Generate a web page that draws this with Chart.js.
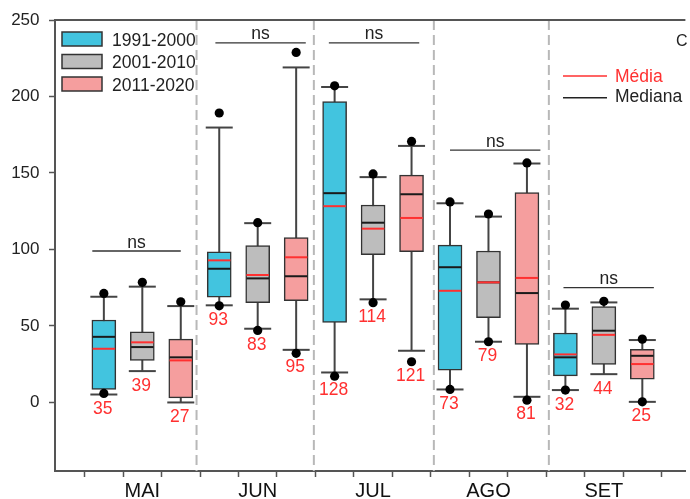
<!DOCTYPE html>
<html><head><meta charset="utf-8">
<script src="https://cdn.jsdelivr.net/npm/chart.js@4.4.1/dist/chart.umd.min.js"></script>
<style>html,body{margin:0;padding:0;background:#fff;overflow:hidden}canvas{display:block}</style>
</head><body>
<canvas id="c" width="690" height="499"></canvas>
<script>
// ---------- DATA ----------
const months = ['MAI', 'JUN', 'JUL', 'AGO', 'SET'];
const seriesNames = ['1991-2000', '2001-2010', '2011-2020'];
const yTicks = [0, 50, 100, 150, 200, 250];
const dividers = [3.41, 6.46, 9.58, 12.57];

// 1991-2000
const wHighA = [69.1, 179.7, 206.2, 130.2, 61.3];
const q3A    = [53.9, 98.4, 196.7, 102.8, 45.4];
const medA   = [42.9, 87.4, 136.8, 88.4, 29.5];
const meanA  = [35.1, 92.9, 128.3, 73.0, 31.4];
const q1A    = [8.5, 68.9, 52.4, 21.1, 17.4];
const wLowA  = [5.2, 63.5, 19.6, 8.5, 8.1];
const dotHiA = [71.3, 189.2, 207.0, 131.1, 63.7];
const dotLoA = [5.9, 63.2, 17.2, 8.5, 8.1];
const labA   = [35, 93, 128, 73, 32];

// 2001-2010
const wHighB = [75.7, 117.2, 147.3, 121.5, 65.4];
const q3B    = [46.2, 102.5, 129.1, 99.0, 62.6];
const medB   = [36.2, 81.1, 117.5, 78.5, 46.9];
const meanB  = [39.3, 83.3, 113.6, 78.5, 44.2];
const q1B    = [27.5, 65.2, 96.6, 55.4, 24.9];
const wLowB  = [20.5, 48.2, 67.4, 39.7, 18.5];
const dotHiB = [78.5, 117.5, 149.4, 123.2, 66.1];
const dotLoB = [null, 47.1, 65.2, 39.7, null];
const labB   = [39, 83, 114, 79, 44];

// 2011-2020
const wHighC = [63.0, 219.0, 167.7, 156.2, 40.8];
const q3C    = [41.4, 107.7, 148.6, 137.2, 34.7];
const medC   = [29.5, 82.5, 136.1, 71.5, 30.5];
const meanC  = [27.5, 94.9, 120.6, 81.4, 25.1];
const q1C    = [3.0, 66.5, 98.6, 38.0, 15.3];
const wLowC  = [0.0, 34.4, 33.8, 3.7, 0.4];
const dotHiC = [65.8, 228.8, 170.6, 156.6, 41.4];
const dotLoC = [null, 32.1, 26.6, 1.5, 0.4];
const labC   = [27, 95, 121, 81, 25];

// "ns" annotations per month
const nsLevel = [99, 235, 235, 165, 75];
const nsLeft  = [0.7, 3.9, 6.85, 10.0, 12.95];
const nsRight = [3.0, 6.25, 9.2, 12.35, 15.3];

// ---------- BUILD ----------
const FONT = "'Liberation Sans', Arial, sans-serif";
const fills = ['#42C4DF', '#BDBDBD', '#F59E9E'];
const stats = [
  {wh: wHighA, q3: q3A, med: medA, mean: meanA, q1: q1A, wl: wLowA, dh: dotHiA, dl: dotLoA, lab: labA},
  {wh: wHighB, q3: q3B, med: medB, mean: meanB, q1: q1B, wl: wLowB, dh: dotHiB, dl: dotLoB, lab: labB},
  {wh: wHighC, q3: q3C, med: medC, mean: meanC, q1: q1C, wl: wLowC, dh: dotHiC, dl: dotLoC, lab: labC}
];
const pos = (gi, si) => 3 * gi + si + 1;
const BOX_W = 24, CAP_HALF = 13.5;

const datasets = [];
stats.forEach((s, si) => {
  datasets.push({
    type: 'bar', label: seriesNames[si], order: 2, grouped: false,
    data: months.map((m, gi) => ({x: pos(gi, si), y: [s.q1[gi], s.q3[gi]]})),
    backgroundColor: fills[si], borderColor: '#333', borderWidth: 1.5,
    borderSkipped: false, barThickness: BOX_W
  });
});
const dots = [];
stats.forEach((s, si) => months.forEach((m, gi) => {
  if (s.dh[gi] != null) dots.push({x: pos(gi, si), y: s.dh[gi]});
  if (s.dl[gi] != null) dots.push({x: pos(gi, si), y: s.dl[gi]});
}));
datasets.push({
  type: 'scatter', label: 'dots', order: 0, data: dots,
  pointRadius: 4.6, pointBackgroundColor: '#000', pointBorderWidth: 0, showLine: false
});

function line(ctx, x1, y1, x2, y2) { ctx.beginPath(); ctx.moveTo(x1, y1); ctx.lineTo(x2, y2); ctx.stroke(); }

const overlay = {
  id: 'overlay',
  beforeDatasetsDraw(chart) {
    const {ctx, chartArea: ca, scales: {x, y}} = chart;
    ctx.save();
    // dashed month dividers
    ctx.strokeStyle = '#B8B8B8'; ctx.lineWidth = 2; ctx.setLineDash([10, 5]);
    dividers.forEach(d => { const px = x.getPixelForValue(d); line(ctx, px, ca.top, px, ca.bottom); });
    ctx.setLineDash([]);
    // whiskers and caps
    ctx.strokeStyle = '#444'; ctx.lineWidth = 2;
    stats.forEach((s, si) => months.forEach((m, gi) => {
      const px = x.getPixelForValue(pos(gi, si));
      const yh = y.getPixelForValue(s.wh[gi]), yl = y.getPixelForValue(s.wl[gi]);
      line(ctx, px, yl, px, yh);
      line(ctx, px - CAP_HALF, yh, px + CAP_HALF, yh);
      line(ctx, px - CAP_HALF, yl, px + CAP_HALF, yl);
    }));
    // ns lines
    ctx.lineWidth = 1.3; ctx.strokeStyle = '#333';
    ctx.fillStyle = '#222'; ctx.font = '17.5px ' + FONT; ctx.textAlign = 'center'; ctx.textBaseline = 'alphabetic';
    months.forEach((m, gi) => {
      const yy = y.getPixelForValue(nsLevel[gi]);
      const xa = x.getPixelForValue(nsLeft[gi]), xb = x.getPixelForValue(nsRight[gi]);
      line(ctx, xa, yy, xb, yy);
      ctx.fillText('ns', (xa + xb) / 2, yy - 3.5);
    });
    ctx.restore();
  },
  afterDatasetsDraw(chart) {
    const {ctx, chartArea: ca, scales: {x, y}} = chart;
    ctx.save();
    const hw = BOX_W / 2 - 0.75;
    stats.forEach((s, si) => months.forEach((m, gi) => {
      const px = x.getPixelForValue(pos(gi, si));
      ctx.lineWidth = 2;
      ctx.strokeStyle = '#1a1a1a';
      const ym = y.getPixelForValue(s.med[gi]);
      line(ctx, px - hw, ym, px + hw, ym);
      ctx.strokeStyle = '#FF3030';
      const ya = y.getPixelForValue(s.mean[gi]);
      line(ctx, px - hw, ya, px + hw, ya);
      // mean label below whisker / dot
      let top = y.getPixelForValue(s.wl[gi]) + 7;
      if (s.dl[gi] != null) top = Math.max(top, y.getPixelForValue(s.dl[gi]) + 6.5);
      ctx.fillStyle = '#FF3030'; ctx.font = '17.5px ' + FONT;
      ctx.textAlign = 'center'; ctx.textBaseline = 'alphabetic';
      ctx.fillText(String(s.lab[gi]), px - 1, top + 12.6);
    }));
    // top border
    ctx.strokeStyle = '#555'; ctx.lineWidth = 2;
    line(ctx, ca.left - 1, ca.top, ca.right, ca.top);
    // series legend
    ctx.font = '17.5px ' + FONT; ctx.textAlign = 'left'; ctx.textBaseline = 'alphabetic';
    seriesNames.forEach((n, i) => {
      const top = 32 + i * 22.5;
      ctx.fillStyle = fills[i]; ctx.fillRect(62, top, 40, 14);
      ctx.strokeStyle = '#333'; ctx.lineWidth = 1.5; ctx.strokeRect(62, top, 40, 14);
      ctx.fillStyle = '#222'; ctx.fillText(n, 112, top + 13.7);
    });
    // mean / median legend
    ctx.lineWidth = 1.5;
    ctx.strokeStyle = '#FF3030'; line(ctx, 563, 76, 607, 76);
    ctx.fillStyle = '#FF3030'; ctx.fillText('Média', 615, 81.7);
    ctx.strokeStyle = '#222'; line(ctx, 563, 97.7, 607, 97.7);
    ctx.fillStyle = '#222'; ctx.fillText('Mediana', 615, 102.4);
    ctx.font = '16px ' + FONT; ctx.fillText('C', 676, 45.7);
    ctx.restore();
  }
};

new Chart(document.getElementById('c'), {
  data: {datasets},
  options: {
    responsive: false, animation: false, devicePixelRatio: 1,
    layout: {padding: {top: 20, right: 0, left: 0, bottom: 0}},
    plugins: {legend: {display: false}, tooltip: {enabled: false}},
    events: [],
    scales: {
      x: {
        type: 'linear', min: -0.27, max: 16.12, offset: false,
        afterBuildTicks: sc => { sc.ticks = Array.from({length: 17}, (_, i) => ({value: i})); },
        afterFit: sc => { sc.height = 28; },
        ticks: {
          autoSkip: false, maxRotation: 0, padding: 2, color: '#111',
          font: {family: FONT, size: 20},
          callback: v => { const gi = (v - 2) / 3; return Number.isInteger(gi) && months[gi] ? months[gi] : ''; }
        },
        grid: {drawOnChartArea: false, drawTicks: true, tickLength: 6, tickColor: '#555', tickWidth: 1.5},
        border: {display: true, color: '#555', width: 2}
      },
      y: {
        type: 'linear', min: -44.8, max: 250,
        afterBuildTicks: sc => { sc.ticks = yTicks.map(v => ({value: v})); },
        afterFit: sc => { sc.width = 55; },
        ticks: {padding: 9.5, color: '#222', font: {family: FONT, size: 17}},
        grid: {drawOnChartArea: false, drawTicks: true, tickLength: 6, tickColor: '#555', tickWidth: 1.5},
        border: {display: true, color: '#555', width: 2}
      }
    }
  },
  plugins: [overlay]
});
</script>
</body></html>
